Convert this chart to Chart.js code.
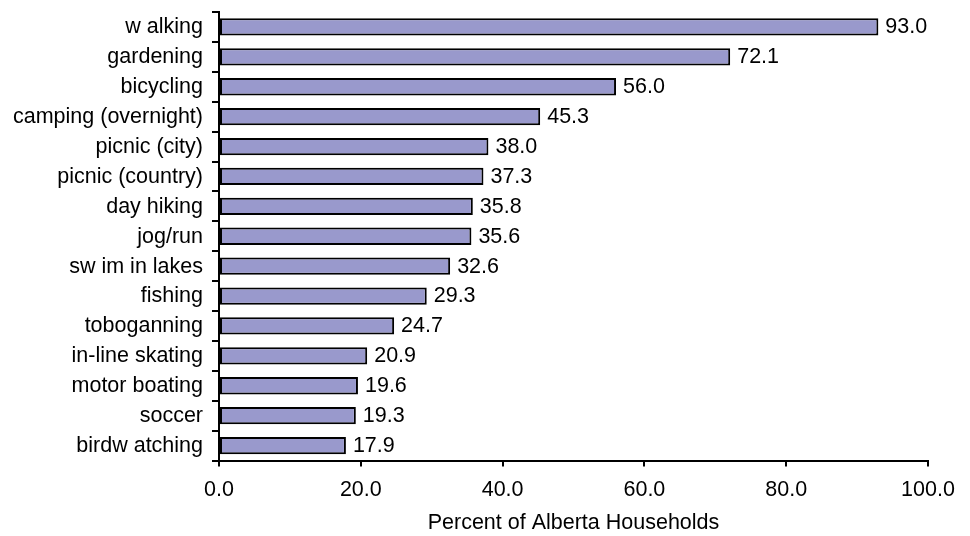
<!DOCTYPE html>
<html>
<head>
<meta charset="utf-8">
<title>Outdoor activities of Alberta households</title>
<script src="https://cdn.jsdelivr.net/npm/chart.js@4.4.1/dist/chart.umd.min.js"></script>
<style>
  html, body { margin: 0; padding: 0; background: #ffffff; }
  #wrap { width: 970px; height: 536px; position: relative; }
</style>
</head>
<body>
<div id="wrap"><canvas id="chart"></canvas></div>
<script>
// Activity categories, top to bottom
const activities = [
  'w alking', 'gardening', 'bicycling', 'camping (overnight)', 'picnic (city)',
  'picnic (country)', 'day hiking', 'jog/run', 'sw im in lakes', 'fishing',
  'toboganning', 'in-line skating', 'motor boating', 'soccer', 'birdw atching'
];

// Percent of households taking part in each activity
const percent = [93.0, 72.1, 56.0, 45.3, 38.0, 37.3, 35.8, 35.6, 32.6, 29.3, 24.7, 20.9, 19.6, 19.3, 17.9];

// Value axis ticks
const xTicks = [0, 20, 40, 60, 80, 100];
const xTitle = 'Percent of Alberta Households';

const FONT = '21.5px "Liberation Sans", Arial, sans-serif';

function label(ctx, text, x, y, align) {
  ctx.save();
  ctx.font = FONT;
  ctx.fillStyle = '#000000';
  ctx.textAlign = align;
  ctx.textBaseline = 'middle';
  ctx.fillText(text, x, y);
  ctx.restore();
}

const textPlugin = {
  id: 'textPlugin',
  afterDraw(chart) {
    const ctx = chart.ctx;
    const xs = chart.scales.x;
    const ys = chart.scales.y;
    const area = chart.chartArea;

    // category labels
    activities.forEach((name, i) => {
      label(ctx, name, area.left - 16, ys.getPixelForValue(i) + 0.5, 'right');
    });

    // value labels after each bar
    const meta = chart.getDatasetMeta(0);
    meta.data.forEach((bar, i) => {
      label(ctx, percent[i].toFixed(1), xs.getPixelForValue(percent[i]) + 7, bar.y + 0.5, 'left');
    });

    // value axis tick labels
    xTicks.forEach(v => {
      label(ctx, v.toFixed(1), xs.getPixelForValue(v), area.bottom + 30, 'center');
    });

    // value axis title
    label(ctx, xTitle, (area.left + area.right) / 2, area.bottom + 63, 'center');
  }
};

new Chart(document.getElementById('chart'), {
  type: 'bar',
  data: {
    labels: activities,
    datasets: [{
      data: percent,
      backgroundColor: '#9999cc',
      borderColor: '#000000',
      borderWidth: 2,
      borderSkipped: false,
      barPercentage: 0.58,
      categoryPercentage: 1.0
    }]
  },
  options: {
    indexAxis: 'y',
    responsive: true,
    maintainAspectRatio: false,
    animation: false,
    layout: { padding: { left: 0, right: 42, top: 12, bottom: 0 } },
    plugins: {
      legend: { display: false },
      tooltip: { enabled: false },
      title: { display: false }
    },
    scales: {
      x: {
        type: 'linear',
        min: 0,
        max: 100,
        ticks: { stepSize: 20, display: false },
        grid: {
          drawOnChartArea: false,
          drawTicks: true,
          tickLength: 6,
          color: '#000000',
          lineWidth: 2
        },
        border: { display: true, color: '#000000', width: 2 },
        afterFit(scale) { scale.height = 75.5; }
      },
      y: {
        type: 'category',
        offset: true,
        ticks: { display: false },
        grid: {
          offset: true,
          drawOnChartArea: false,
          drawTicks: true,
          tickLength: 7,
          color: '#000000',
          lineWidth: 2
        },
        border: { display: true, color: '#000000', width: 2 },
        afterFit(scale) { scale.width = 219; }
      }
    }
  },
  plugins: [textPlugin]
});
</script>
</body>
</html>
